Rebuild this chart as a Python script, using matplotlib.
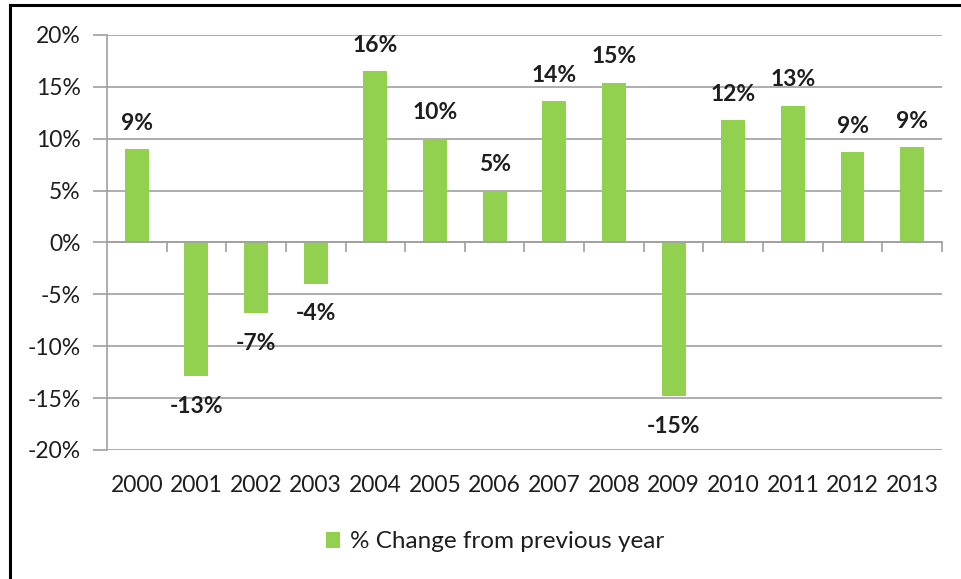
import matplotlib.pyplot as plt
from matplotlib.lines import Line2D
from matplotlib.patches import Patch
from matplotlib.ticker import FuncFormatter

years = ['2000', '2001', '2002', '2003', '2004', '2005', '2006',
         '2007', '2008', '2009', '2010', '2011', '2012', '2013']
pct_change = [9.0, -12.9, -6.8, -4.0, 16.5, 10.0, 5.0,
              13.6, 15.4, -14.8, 11.8, 13.2, 8.7, 9.2]
bar_labels = ['9%', '-13%', '-7%', '-4%', '16%', '10%', '5%',
              '14%', '15%', '-15%', '12%', '13%', '9%', '9%']
yticks = [-20, -15, -10, -5, 0, 5, 10, 15, 20]

green = '#92D050'
grid_c = '#a0a0a0'
txt_c = '#1e1e1e'
fs = 16.5

plt.rcParams['font.family'] = ['Lato', 'DejaVu Sans']

fig = plt.figure(figsize=(9.61, 5.79), dpi=100)
ax = fig.add_axes([0.1113, 0.2228, 0.8689, 0.7168])

x = list(range(len(years)))
ax.bar(x, pct_change, width=0.4, color=green, zorder=3)

ax.set_xlim(-0.5, len(years) - 0.5)
ax.set_ylim(-20, 20)
ax.set_yticks(yticks)
ax.yaxis.set_major_formatter(FuncFormatter(lambda v, p: '{:.0f}%'.format(v)))
ax.tick_params(axis='y', length=10, width=1.2, color=grid_c, labelsize=fs,
               labelcolor=txt_c, pad=9)
ax.grid(axis='y', color=grid_c, linewidth=1.2, zorder=0)

for s in ['top', 'right']:
    ax.spines[s].set_visible(False)
ax.spines['left'].set_color(grid_c)
ax.spines['left'].set_linewidth(1.2)
ax.spines['bottom'].set_position(('data', 0))
ax.spines['bottom'].set_color(grid_c)
ax.spines['bottom'].set_linewidth(1.2)
ax.spines['bottom'].set_zorder(4)

# category boundary tick marks on the zero line
ax.set_xticks(x)
ax.set_xticklabels([])
ax.tick_params(axis='x', which='major', length=0)
ax.set_xticks([i + 0.5 for i in x], minor=True)
ax.tick_params(axis='x', which='minor', length=7, width=1.2, color=grid_c,
               direction='out')

# year labels below plot
for i, yr in enumerate(years):
    ax.annotate(yr, xy=(i, 0), xycoords=('data', 'axes fraction'),
                xytext=(0, -36), textcoords='offset pixels',
                ha='center', va='center', fontsize=fs, color=txt_c)

# data labels
for i, (v, lab) in enumerate(zip(pct_change, bar_labels)):
    off = 26 if v >= 0 else -30
    ax.annotate(lab, xy=(i, v), xytext=(0, off), textcoords='offset pixels',
                ha='center', va='center', fontsize=fs, fontweight='bold',
                color=txt_c, zorder=5)

handle = Patch(facecolor=green, edgecolor='none')
fig.legend([handle], ['% Change from previous year'], loc='center',
           bbox_to_anchor=(0.515, 0.064), frameon=False, fontsize=17.5,
           handlelength=0.6, handleheight=0.6, handletextpad=0.4,
           labelcolor=txt_c)

# outer border (top and left edges visible in the crop)
fig.add_artist(Line2D([10 / 961, 1], [1 - 5 / 579, 1 - 5 / 579],
                      transform=fig.transFigure, color='black', linewidth=2.2))
fig.add_artist(Line2D([10 / 961, 10 / 961], [0, 1 - 5 / 579],
                      transform=fig.transFigure, color='black', linewidth=2.2))

fig.savefig('out.png', dpi=100)
